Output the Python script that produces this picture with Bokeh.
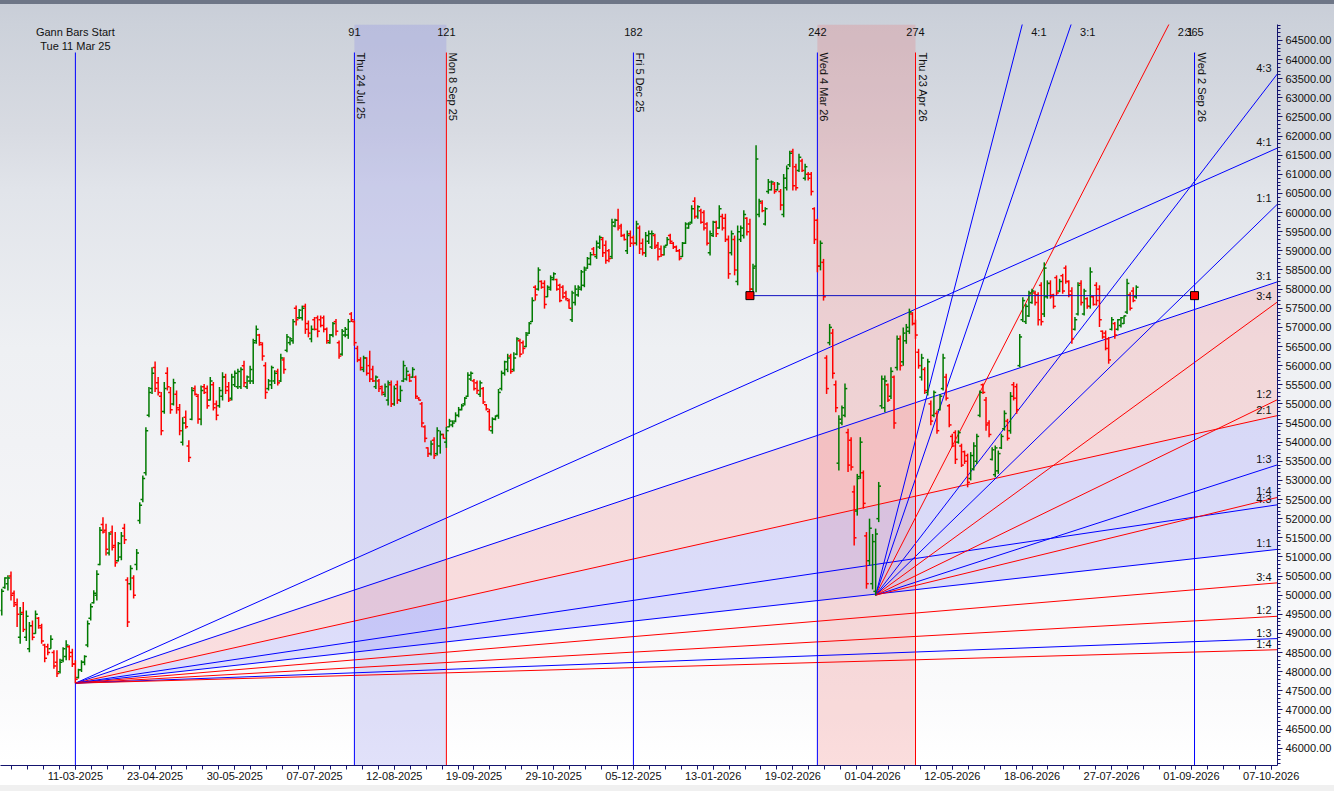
import math
from bokeh.plotting import figure
from bokeh.models import FixedTicker, NumeralTickFormatter, Range1d, ColumnDataSource
from bokeh.core.properties import value
from bokeh.embed import file_html
from bokeh.resources import INLINE

# ---------------- data: daily OHLC bars (bar index 0 = Tue 11 Mar 25) ----------------
FIRST_BAR = -24

OPEN = [
    49600, 50200, 50300, 50500, 50050, 49750, 48900, 49550, 48900, 48600,
    49200, 49000, 49400, 49150, 48700, 48650, 48600, 48500, 48250, 48000,
    48300, 48400, 48650, 48500, 48200, 47850, 48050, 48250, 48700, 49400,
    49800, 50000, 50800, 51850, 51700, 51100, 51650, 51300, 50900, 51000,
    51750, 50400, 50300, 50450, 50800, 51950, 52500, 53200, 54700, 55400,
    55950, 55550, 55200, 54800, 55800, 55300, 55000, 55250, 54850, 54000,
    54650, 53900, 54600, 55400, 55200, 54600, 55450, 55400, 55100, 55500,
    55000, 54950, 55200, 55700, 55450, 55150, 55500, 55450, 55450, 56000,
    55450, 55600, 55600, 56650, 56800, 56550, 56000, 55400, 55500, 55600,
    55850, 55600, 56150, 56400, 56600, 56650, 57500, 57250, 57250, 57550,
    57100, 56700, 57200, 57250, 57200, 57250, 56950, 56600, 56800, 57150,
    56600, 56300, 56800, 56800, 57350, 57150, 56450, 56150, 55900, 56200,
    56000, 55900, 55450, 55600, 55450, 55250, 55100, 55500, 55000, 55500,
    55100, 55600, 55650, 55750, 55700, 55700, 55150, 55000, 54400, 53850,
    53700, 54050, 53700, 53900, 54200, 54000, 54400, 54450, 54550, 54700,
    54850, 55000, 55200, 55650, 55600, 55550, 55250, 55400, 54980, 54800,
    54300, 54600, 54700, 55400, 55800, 55900, 56250, 55900, 56300, 56650,
    56600, 56500, 56850, 57150, 58050, 58000, 58200, 58150, 57800, 58000,
    58250, 58250, 58100, 58050, 57900, 57700, 57200, 57650, 57850, 58000,
    58100, 58550, 58650, 59050, 58850, 59100, 59300, 59150, 59000, 58850,
    59650, 59800, 59650, 59400, 59000, 59450, 59350, 59200, 59600, 59200,
    58950, 59250, 59100, 59400, 59150, 59050, 58900, 59150, 59400, 59200,
    59100, 59000, 58850, 59200, 59600, 59750, 60300, 59900, 60050, 60000,
    59700, 58950, 59400, 59750, 59600, 59900, 59850, 59300, 58950, 59300,
    58200, 59300, 59400, 59850, 59700, 58000, 58600, 59950, 60250, 59700,
    60550, 60600, 60750, 60600, 60550, 59950, 60650, 61250, 61600, 61200,
    61100, 61350, 60900, 61000, 61000, 60100, 59800, 58600, 58700, 56200,
    56600, 56850, 55500, 53450, 54500, 54700, 54250, 54050, 52700, 52200,
    53100, 53200, 51550, 50900, 50300, 50100, 52000, 54950, 54900, 55500,
    55200, 55700, 55950, 56700, 56100, 56650, 56900, 57350, 57100, 56350,
    55700, 55900, 55300, 55000, 54700, 54750, 54850, 55400, 55700, 54950,
    54150, 54250, 54000, 53900, 53750, 53650, 53050, 53300, 53500, 54700,
    55500, 55100, 54500, 53550, 53150, 53250, 53850, 54350, 54550, 54300,
    55500, 55450, 56000, 57200, 57150, 57300, 57650, 57900, 57850, 58100,
    57350, 57800, 58150, 57850, 58300, 57950, 58350, 58550, 58200, 57950,
    56950, 57350, 58150, 57350, 57750, 57550, 57800, 58100, 58000, 56900,
    56850, 56700, 56950, 57100, 56950, 57050, 57100, 57400, 57850, 57950, 57800,
]
HIGH = [
    50170, 50470, 50520, 50620, 50120, 49910, 49690, 49820, 49600, 49300,
    49340, 49600, 49430, 49250, 48730, 48730, 48950, 48560, 48560, 48340,
    48640, 48820, 48690, 48600, 48300, 48080, 48300, 48430, 49340, 49780,
    50130, 50650, 51780, 52040, 51870, 51650, 51820, 51650, 51390, 51650,
    51870, 50470, 50780, 50520, 51210, 52430, 53130, 54390, 55440, 55960,
    56110, 55700, 55310, 55570, 55960, 55440, 55660, 55350, 55000, 54650,
    54830, 54050, 55440, 55480, 55260, 55480, 55520, 55480, 55700, 55570,
    55090, 55440, 55830, 55790, 55570, 55790, 55870, 55920, 55960, 56130,
    55740, 56000, 56700, 57050, 56830, 56610, 56090, 55650, 56000, 55880,
    55920, 56310, 56220, 56830, 56750, 57220, 57570, 57480, 57570, 57620,
    57180, 57050, 57270, 57310, 57310, 57310, 57000, 56830, 57140, 57220,
    56660, 56960, 57010, 57220, 57400, 57180, 56520, 56220, 56260, 56220,
    56390, 56000, 55740, 55650, 55480, 55530, 55610, 55610, 55480, 55610,
    55480, 56130, 55960, 55790, 55960, 55740, 55180, 55050, 54440, 53870,
    54040, 54130, 54390, 54300, 54220, 54400, 54610, 54570, 54780, 54920,
    55000, 55180, 55830, 55850, 55650, 55610, 55610, 55440, 55000, 54870,
    54650, 54700, 55390, 55870, 56130, 56310, 56310, 56350, 56740, 56700,
    56660, 56880, 57140, 57790, 58100, 58570, 58230, 58230, 58100, 58360,
    58440, 58270, 58140, 58100, 57960, 57750, 57960, 58100, 58100, 58500,
    58590, 58840, 58970, 59100, 59270, 59400, 59360, 59270, 59050, 59840,
    59840, 60100, 59710, 59450, 59530, 59530, 59400, 59790, 59660, 59320,
    59490, 59530, 59530, 59450, 59230, 59140, 59140, 59360, 59450, 59230,
    59140, 59050, 59230, 59750, 59750, 60190, 60400, 60190, 60100, 60060,
    59750, 59530, 59790, 59790, 60190, 59970, 59970, 59400, 59530, 59400,
    59660, 59660, 60060, 59880, 59840, 58660, 61760, 60360, 60320, 60140,
    60880, 60840, 60800, 60800, 60620, 61010, 61230, 61620, 61670, 61280,
    61540, 61410, 61280, 61060, 61060, 60140, 59840, 59270, 58790, 56270,
    57090, 56960, 55610, 54700, 54960, 55530, 54350, 54130, 52870, 53170,
    54130, 53260, 51650, 52000, 51600, 51740, 52960, 55740, 55740, 55530,
    55960, 55740, 56790, 56790, 57000, 57090, 57490, 57400, 57200, 56440,
    56310, 55960, 56180, 55090, 55350, 54830, 55260, 56310, 55790, 55000,
    54220, 54310, 54310, 53960, 53780, 53700, 53740, 54000, 54220, 55350,
    55530, 55180, 54570, 53870, 53910, 53780, 54220, 54830, 54610, 55310,
    55570, 55530, 56830, 57790, 57620, 57960, 58010, 57960, 57920, 58180,
    58700, 58230, 58230, 57880, 58360, 58270, 58400, 58620, 58230, 58050,
    57270, 58180, 58230, 58010, 57790, 58570, 57830, 58180, 58100, 56920,
    56920, 56750, 57270, 57140, 57220, 57270, 57310, 58270, 57920, 58050, 58100,
]
LOW = [
    49470, 50170, 50120, 49860, 49690, 49170, 48730, 49040, 48800, 48510,
    48820, 48990, 49120, 48730, 48250, 48430, 48600, 48080, 47860, 47950,
    48250, 48300, 48300, 48120, 47700, 47820, 47990, 48170, 48640, 49340,
    49780, 49860, 50780, 51610, 51040, 51040, 51170, 50740, 50880, 50910,
    51340, 49170, 50130, 49910, 50650, 51870, 52430, 53130, 54650, 55260,
    55310, 55220, 54180, 54740, 55350, 54740, 54960, 54740, 54180, 53910,
    54350, 53480, 54570, 55220, 54480, 54440, 55260, 54870, 55090, 54830,
    54570, 54900, 55090, 55260, 55050, 55090, 55440, 55390, 55390, 55440,
    55390, 55520, 55520, 56570, 56520, 56130, 55130, 55350, 55390, 55520,
    55480, 55570, 55790, 56350, 56530, 56570, 57050, 57220, 57180, 56830,
    56740, 56610, 56920, 56740, 57000, 56870, 56570, 56570, 56740, 56790,
    56180, 56260, 56740, 56700, 57140, 56520, 56090, 55870, 55830, 55740,
    55570, 55570, 55390, 55310, 55220, 55180, 54960, 54920, 54950, 55000,
    55050, 55570, 55610, 55570, 55680, 55130, 55090, 54390, 54000, 53610,
    53650, 53560, 53650, 53700, 54090, 53850, 54390, 54390, 54520, 54650,
    54830, 54960, 55180, 55600, 55350, 55260, 55180, 55000, 54830, 54300,
    54220, 54570, 54610, 55350, 55740, 55830, 55790, 55850, 56270, 56220,
    56310, 56480, 56830, 57140, 57700, 57960, 58010, 57490, 57790, 57960,
    58230, 57960, 57660, 57750, 57700, 57490, 57140, 57570, 57800, 57960,
    58050, 58530, 58620, 58880, 58790, 59050, 58840, 58660, 58700, 58790,
    59620, 59530, 59360, 59270, 58920, 59100, 59140, 59140, 58920, 58880,
    58840, 59180, 59050, 59050, 58750, 58840, 58880, 59140, 59180, 59050,
    58970, 58750, 58840, 59180, 59580, 59710, 59840, 59840, 59710, 59530,
    59140, 58880, 59360, 59360, 59580, 59530, 59230, 58270, 58880, 58360,
    58100, 59230, 59320, 59400, 57830, 57880, 57920, 59880, 60010, 59660,
    60490, 60580, 60490, 60580, 60060, 59880, 60580, 61190, 60580, 60580,
    61060, 61060, 60840, 60840, 60450, 59180, 58440, 58490, 57700, 55260,
    56530, 55660, 54780, 53260, 54440, 54650, 53220, 53260, 51300, 52080,
    53040, 52260, 50170, 50780, 50150, 50000, 51910, 54870, 54780, 55050,
    55130, 54350, 55870, 55870, 56000, 56570, 56830, 57050, 56700, 55920,
    55610, 55260, 55220, 54440, 54650, 54220, 54830, 55350, 55090, 54390,
    53870, 53430, 53960, 53350, 53430, 52820, 53000, 53260, 53430, 54650,
    55260, 54300, 54130, 53520, 53080, 53170, 53820, 54300, 54040, 54220,
    55090, 54740, 55960, 57140, 57090, 57270, 57620, 57570, 57050, 57050,
    57270, 57750, 57750, 57490, 57830, 57920, 57880, 58140, 57790, 56570,
    56920, 57310, 57570, 57310, 57490, 57490, 57570, 57570, 57010, 56700,
    56400, 56050, 56920, 56700, 56920, 57000, 57090, 57350, 57440, 57660, 57750,
]
CLOSE = [
    50100, 50450, 50450, 50000, 49800, 49500, 49500, 49100, 49450, 49200,
    48900, 49500, 49200, 48800, 48350, 48500, 48850, 48150, 47950, 48250,
    48600, 48700, 48400, 48200, 47800, 48050, 48250, 48400, 49250, 49700,
    50050, 50550, 51700, 51650, 51200, 51600, 51250, 50850, 51350, 51550,
    51450, 49300, 50700, 50000, 51100, 52350, 53050, 54300, 55300, 55800,
    55400, 55300, 54300, 55400, 55450, 54850, 55550, 54900, 54300, 54500,
    54400, 53600, 55350, 55250, 54600, 55350, 55300, 54950, 55600, 54900,
    54700, 55350, 55700, 55350, 55100, 55700, 55800, 55850, 55900, 55550,
    55700, 55900, 56600, 56950, 56600, 56250, 55300, 55600, 55950, 55800,
    55550, 56200, 55900, 56750, 56700, 57150, 57200, 57450, 57500, 56950,
    56850, 56950, 56950, 56900, 57050, 56950, 56650, 56800, 57100, 56900,
    56250, 56900, 56950, 57150, 57200, 56600, 56150, 55950, 56200, 55800,
    55650, 55600, 55700, 55400, 55300, 55450, 55550, 55000, 55400, 55100,
    55350, 56000, 55850, 55600, 55900, 55200, 55100, 54500, 54100, 53700,
    53950, 53650, 54300, 54200, 54100, 54300, 54550, 54500, 54700, 54850,
    54950, 55150, 55750, 55800, 55400, 55350, 55550, 55050, 54870, 54400,
    54600, 54680, 55300, 55800, 56100, 56200, 55850, 56200, 56700, 56300,
    56450, 56800, 57100, 57700, 57850, 58500, 58050, 57600, 58050, 58300,
    58400, 58000, 57700, 57800, 57750, 57500, 57900, 58000, 58050, 58450,
    58500, 58800, 58900, 58900, 59200, 59350, 58950, 58750, 58800, 59750,
    59800, 59600, 59400, 59300, 59400, 59200, 59200, 59700, 59050, 58950,
    59400, 59450, 59450, 59100, 58850, 58900, 59100, 59300, 59250, 59100,
    59000, 58800, 59200, 59700, 59700, 60100, 59900, 60150, 59750, 59600,
    59200, 59450, 59750, 59450, 60100, 59600, 59300, 58400, 59450, 58500,
    59500, 59600, 59950, 59500, 58000, 58550, 61400, 60300, 60050, 60100,
    60800, 60800, 60550, 60750, 60200, 60900, 61150, 61550, 60700, 60650,
    61450, 61100, 61200, 60900, 60550, 59300, 58600, 59200, 57800, 55400,
    57000, 55800, 54900, 54600, 54900, 55400, 53400, 53350, 51500, 53050,
    54000, 52400, 50300, 51750, 51400, 51600, 52850, 55650, 55600, 55100,
    55850, 54500, 56700, 56000, 56850, 57000, 57400, 57100, 56800, 56000,
    56200, 55350, 56100, 54550, 55300, 54300, 55200, 56200, 55150, 54450,
    53900, 53550, 54250, 53400, 53500, 52950, 53650, 53900, 54150, 55300,
    55300, 54450, 54200, 53800, 53850, 53700, 54150, 54750, 54100, 55200,
    55150, 54850, 56750, 57700, 57550, 57900, 57950, 57650, 57200, 57150,
    58550, 58150, 57800, 57550, 57900, 58200, 57950, 58200, 57850, 56700,
    57200, 58100, 57650, 57950, 57550, 58450, 57600, 57700, 57200, 56750,
    56450, 56150, 57200, 56800, 57200, 57250, 57300, 58150, 57500, 57700, 58050,
]

# ---------------- axes ----------------
XTICK_BARS = [0, 26, 52, 78, 104, 130, 156, 182, 208, 234, 260, 286, 312, 338, 364, 390]
XTICK_LABELS = ["11-03-2025", "23-04-2025", "30-05-2025", "07-07-2025", "12-08-2025",
                "19-09-2025", "29-10-2025", "05-12-2025", "13-01-2026", "19-02-2026",
                "01-04-2026", "12-05-2026", "18-06-2026", "27-07-2026", "01-09-2026",
                "07-10-2026"]
PRICE_MIN_TICK, PRICE_MAX_TICK, PRICE_STEP, PRICE_MINOR = 46000, 64500, 500, 100

# ---------------- Gann time lines ----------------
VLINE_BARS = [0, 91, 121, 182, 242, 274, 365]
VLINE_COLORS = ["#0000ff", "#0000ff", "#ff0000", "#0000ff", "#0000ff", "#ff0000", "#0000ff"]
VLINE_COUNTS = ["", "91", "121", "182", "242", "274", "365"]
VLINE_DATES = ["Tue 11 Mar 25", "Thu 24 Jul 25", "Mon 8 Sep 25", "Fri 5 Dec 25",
               "Wed 4 Mar 26", "Thu 23 Apr 26", "Wed 2 Sep 26"]
START_TITLE = "Gann Bars Start"

BAND_START = [91, 242]
BAND_END = [121, 274]
BAND_COLORS = ["#7777e6", "#ee6666"]

# ---------------- Gann fans ----------------
FAN_ORIGIN_BAR = [0, 261]
FAN_ORIGIN_PRICE = [47700, 50000]
FAN_UNIT = [8.92, 78.0]          # price per bar of the 1x1 line
RATIO_LABELS = ["4:1", "3:1", "2:1", "4:3", "1:1", "3:4", "1:2", "1:3", "1:4"]
RATIO_VALUES = [4, 3, 2, 4 / 3, 1, 3 / 4, 1 / 2, 1 / 3, 1 / 4]
RATIO_COLORS = ["#0000ff", "#0000ff", "#ff0000", "#0000ff", "#0000ff",
                "#ff0000", "#ff0000", "#0000ff", "#ff0000"]
# zones of the first fan: (upper ratio, lower ratio, colour)
FAN_ZONES = [(3, 2, "#ff7f7f"), (2, 1, "#7f7fff")]

HLINE_START_BAR, HLINE_END_BAR = 220, 365

# ---------------- figure ----------------
X_START, X_END = -24.42, 392.06
Y_START, Y_END = 45548, 64917
PX_PER_PRICE = 741 / (Y_END - Y_START)
LINE_TOP = Y_END - 28 / PX_PER_PRICE

FONT = "Liberation Sans"

p = figure(width=1334, height=791, x_range=Range1d(X_START, X_END),
           y_range=Range1d(Y_START, Y_END), output_backend="svg",
           toolbar_location=None, y_axis_location="right",
           min_border_left=0, min_border_top=24, min_border_right=0, min_border_bottom=26)
p.xgrid.visible = False
p.ygrid.visible = False
p.outline_line_color = None
p.background_fill_alpha = 0
p.border_fill_alpha = 0
p.styles = {"background": "linear-gradient(to bottom, #6e7687 0%, #6e7687 0.5%, #c9ced8 0.5%, "
                          "#ccd1da 3%, #d8dbe2 16.5%, #e1e4ea 24%, #eef0f3 44%, #f1f2f5 56%, "
                          "#fafafb 87%, #ffffff 96.5%, #ffffff 99.2%, #f0f0f0 99.2%, #f0f0f0 100%)"}

# time bands
p.quad(left=BAND_START, right=BAND_END, bottom=Y_START, top=Y_END,
       fill_color=BAND_COLORS, fill_alpha=0.22, line_color=None)

# fan zones (first fan)
x_far = X_END + 1
ob, op, un = FAN_ORIGIN_BAR[0], FAN_ORIGIN_PRICE[0], FAN_UNIT[0]
for up, lo, col in FAN_ZONES:
    p.varea(x=[ob, x_far], y1=[op, op + up * un * (x_far - ob)],
            y2=[op, op + lo * un * (x_far - ob)], fill_color=col, fill_alpha=0.22)

# fan lines and labels
right_lbl = dict(x=[], y=[], t=[])
top_lbl = dict(x=[], y=[], t=[])
for ob, op, un in zip(FAN_ORIGIN_BAR, FAN_ORIGIN_PRICE, FAN_UNIT):
    x1 = [x_far] * len(RATIO_VALUES)
    y1 = [op + r * un * (x_far - ob) for r in RATIO_VALUES]
    p.segment(x0=[ob] * len(RATIO_VALUES), y0=[op] * len(RATIO_VALUES), x1=x1, y1=y1,
              line_color=RATIO_COLORS, line_width=1)
    for r, lab in zip(RATIO_VALUES, RATIO_LABELS):
        y_edge = op + r * un * (X_END - ob)
        if y_edge <= Y_END:
            right_lbl["x"].append(X_END); right_lbl["y"].append(y_edge); right_lbl["t"].append(lab)
        else:
            top_lbl["x"].append(ob + (Y_END - op) / (r * un)); top_lbl["y"].append(Y_END)
            top_lbl["t"].append(lab)

p.text(x="x", y="y", text="t", source=ColumnDataSource(right_lbl), text_align="right",
       text_baseline="bottom", x_offset=-6, y_offset=0, text_font=value(FONT),
       text_font_size="11px", text_color="#111111")
p.text(x="x", y="y", text="t", source=ColumnDataSource(top_lbl), text_align="left",
       text_baseline="top", x_offset=9, y_offset=1, text_font=value(FONT),
       text_font_size="11px", text_color="#111111")

# vertical time lines
p.segment(x0=VLINE_BARS, y0=Y_START, x1=VLINE_BARS, y1=LINE_TOP,
          line_color=VLINE_COLORS, line_width=1)

# OHLC bars
bars = list(range(FIRST_BAR, FIRST_BAR + len(CLOSE)))
assert len(OPEN) == len(HIGH) == len(LOW) == len(CLOSE) == len(bars)
cols = ["#007a00" if c >= o else "#ff0000" for o, c in zip(OPEN, CLOSE)]
tick = 0.75
src = ColumnDataSource(dict(x=bars, xl=[b - tick for b in bars], xr=[b + tick for b in bars],
                            o=OPEN, h=HIGH, l=LOW, c=CLOSE, col=cols))
p.segment(x0="x", y0="l", x1="x", y1="h", line_color="col", line_width=1.5, source=src)
p.segment(x0="xl", y0="o", x1="x", y1="o", line_color="col", line_width=1.5, source=src)
p.segment(x0="x", y0="c", x1="xr", y1="c", line_color="col", line_width=1.5, source=src)

# horizontal price line from the bar-220 low to the 365 time line
h_price = LOW[HLINE_START_BAR - FIRST_BAR]
p.segment(x0=[HLINE_START_BAR], y0=[h_price], x1=[HLINE_END_BAR], y1=[h_price],
          line_color="#1010c0", line_width=1)
p.scatter(x=[HLINE_START_BAR, HLINE_END_BAR], y=[h_price, h_price], marker="square",
          size=8, fill_color="#ff0000", line_color="#000000", line_width=1)

# labels at the top of the time lines
p.text(x=[VLINE_BARS[0]], y=[Y_END], text=[START_TITLE], text_align="center",
       text_baseline="middle", y_offset=7, text_font=value(FONT), text_font_size="11px",
       text_color="#111111")
p.text(x=[VLINE_BARS[0]], y=[Y_END], text=[VLINE_DATES[0]], text_align="center",
       text_baseline="middle", y_offset=21, text_font=value(FONT), text_font_size="11px",
       text_color="#111111")
p.text(x=VLINE_BARS[1:], y=[Y_END] * (len(VLINE_BARS) - 1), text=VLINE_COUNTS[1:],
       text_align="center", text_baseline="middle", y_offset=7, text_font=value(FONT),
       text_font_size="11px", text_color="#111111")
p.text(x=VLINE_BARS[1:], y=[Y_END] * (len(VLINE_BARS) - 1), text=VLINE_DATES[1:],
       angle=-math.pi / 2, text_align="left", text_baseline="bottom", x_offset=1,
       y_offset=28, text_font=value(FONT), text_font_size="11px", text_color="#111111")

# axes styling
xa = p.xaxis[0]
xa.ticker = FixedTicker(ticks=[-26] + XTICK_BARS,
                        minor_ticks=[t + k * 5.2 for t in [-26] + XTICK_BARS for k in range(5)])
xa.major_label_overrides = {t: lab for t, lab in zip(XTICK_BARS, XTICK_LABELS)}
xa.major_label_overrides[-26] = "31-01-2025"
ya = p.yaxis[0]
ya.ticker = FixedTicker(ticks=list(range(PRICE_MIN_TICK, PRICE_MAX_TICK + 1, PRICE_STEP)),
                        minor_ticks=list(range(45600, 64901, PRICE_MINOR)))
ya.formatter = NumeralTickFormatter(format="0.00")
for ax in (xa, ya):
    ax.axis_line_color = "#14146e"
    ax.major_tick_line_color = "#14146e"
    ax.minor_tick_line_color = "#14146e"
    ax.major_tick_in = 0
    ax.minor_tick_in = 0
    ax.major_label_text_font = FONT
    ax.major_label_text_font_size = "11px"
    ax.major_label_text_color = "#111111"
xa.major_tick_out = 4
xa.minor_tick_out = 4
xa.major_label_standoff = 2
ya.major_tick_out = 5
ya.minor_tick_out = 3
ya.major_label_standoff = 3

open("out.html", "w").write(file_html(p, INLINE))
